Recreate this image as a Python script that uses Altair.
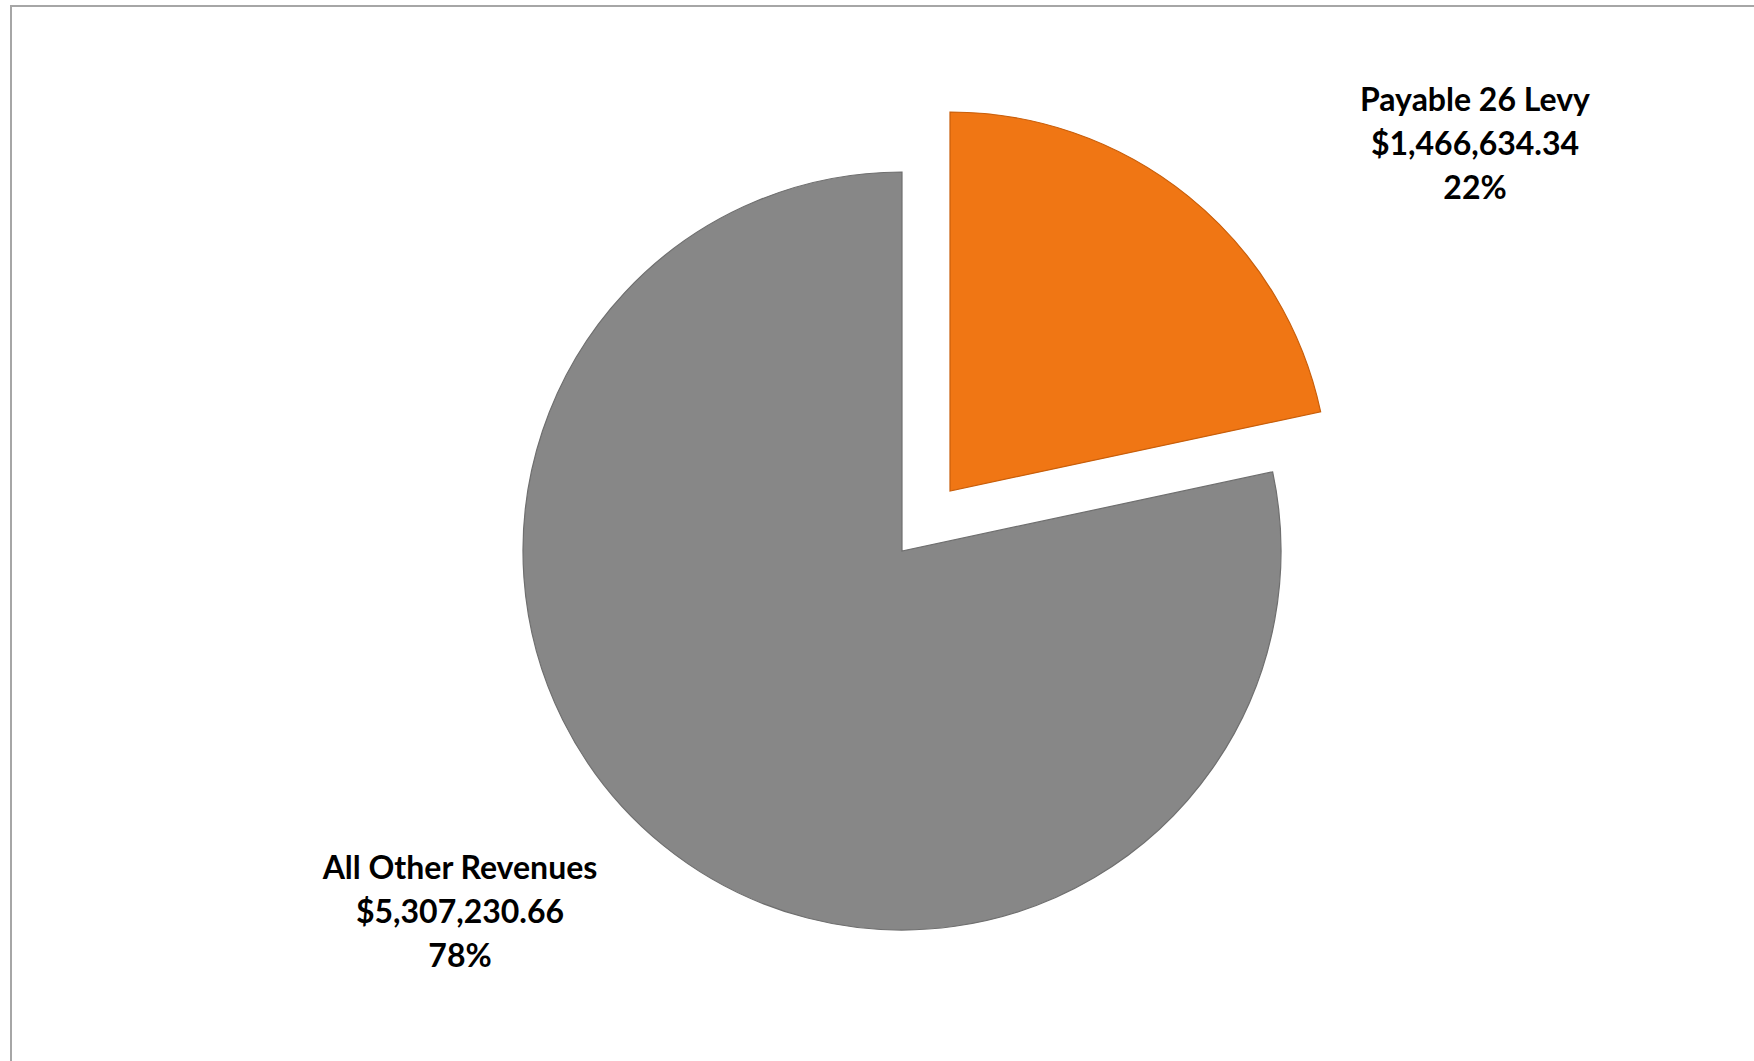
import altair as alt
import pandas as pd

categories = ["Payable 26 Levy", "All Other Revenues"]
values = [1466634.34, 5307230.66]
colors = ["#F07614", "#878787"]

total = sum(values)
df = pd.DataFrame({
    "category": categories,
    "value": values,
    "order": [0, 1],
})
df["label"] = [
    f"{c}\n${v:,.2f}\n{round(v / total * 100):.0f}%" for c, v in zip(categories, values)
]

W, H = 1754, 1061
CX, CY, R = 902, 551, 379
EX, EY = 48, -60  # explode offset for the levy slice

color_enc = alt.Color("category:N", scale=alt.Scale(domain=categories, range=colors), legend=None)

base = alt.Chart(df).encode(
    theta=alt.Theta("value:Q", stack=True),
    order=alt.Order("order:Q"),
    color=color_enc,
)

gray_arc = base.mark_arc(outerRadius=R, x=CX, y=CY, stroke="#6f6f6f", strokeWidth=1.2).encode(
    opacity=alt.condition(alt.datum.category == "All Other Revenues", alt.value(1), alt.value(0)),
    strokeOpacity=alt.condition(alt.datum.category == "All Other Revenues", alt.value(1), alt.value(0)),
)
orange_arc = base.mark_arc(outerRadius=R, x=CX + EX, y=CY + EY, stroke="#C85E0A", strokeWidth=1.2).encode(
    opacity=alt.condition(alt.datum.category == "Payable 26 Levy", alt.value(1), alt.value(0)),
    strokeOpacity=alt.condition(alt.datum.category == "Payable 26 Levy", alt.value(1), alt.value(0)),
)

text_style = dict(font="Lato", fontWeight="bold", fontSize=32, lineBreak="\n",
                  lineHeight=44, align="center", baseline="middle", color="#000000")

levy_label = alt.Chart(df).transform_filter(alt.datum.category == "Payable 26 Levy").mark_text(
    **text_style).encode(x=alt.value(1475), y=alt.value(101), text="label:N")
other_label = alt.Chart(df).transform_filter(alt.datum.category == "All Other Revenues").mark_text(
    **text_style).encode(x=alt.value(460), y=alt.value(869), text="label:N")

border = alt.Chart(df.head(1)).mark_rect(fill=None, stroke="#A6A6A6", strokeWidth=2).encode(
    x=alt.value(11), x2=alt.value(1780), y=alt.value(6), y2=alt.value(1090)
)

chart = alt.layer(border, gray_arc, orange_arc, levy_label, other_label).properties(
    width=W, height=H, padding=0, autosize="none", background="white"
).configure_view(stroke=None)

chart.save("out.html", embed_options={"renderer": "svg", "actions": False})
